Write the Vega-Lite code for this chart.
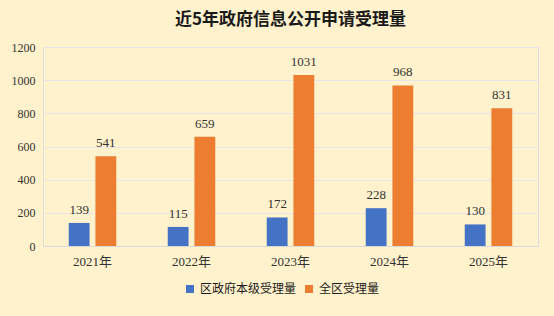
{
  "$schema": "https://vega.github.io/schema/vega-lite/v6.json",
  "autosize": "none",
  "width": 495,
  "height": 199,
  "padding": {"left": 43, "top": 47, "right": 16, "bottom": 70},
  "background": "#FFF2CC",
  "title": {
    "text": "近5年政府信息公开申请受理量",
    "font": "Noto Sans CJK SC",
    "fontSize": 17,
    "fontWeight": "bold",
    "color": "#1a1a1a",
    "anchor": "middle",
    "offset": 12
  },
  "data": {
    "values": [
      {"year": "2021年", "series": "区政府本级受理量", "value": 139},
      {"year": "2021年", "series": "全区受理量", "value": 541},
      {"year": "2022年", "series": "区政府本级受理量", "value": 115},
      {"year": "2022年", "series": "全区受理量", "value": 659},
      {"year": "2023年", "series": "区政府本级受理量", "value": 172},
      {"year": "2023年", "series": "全区受理量", "value": 1031},
      {"year": "2024年", "series": "区政府本级受理量", "value": 228},
      {"year": "2024年", "series": "全区受理量", "value": 968},
      {"year": "2025年", "series": "区政府本级受理量", "value": 130},
      {"year": "2025年", "series": "全区受理量", "value": 831}
    ]
  },
  "encoding": {
    "x": {
      "field": "year", "type": "nominal", "sort": null,
      "scale": {"paddingInner": 0.52, "paddingOuter": 0.26},
      "axis": {
        "title": null, "labelAngle": 0, "ticks": false,
        "domainColor": "#D9D9D9", "labelPadding": 9,
        "labelFont": "Liberation Serif, Noto Sans CJK SC", "labelFontSize": 13, "labelColor": "#333333"
      }
    },
    "xOffset": {
      "field": "series", "type": "nominal", "sort": ["区政府本级受理量", "全区受理量"],
      "scale": {"paddingInner": 0.22, "paddingOuter": 0}
    },
    "y": {
      "field": "value", "type": "quantitative",
      "scale": {"domain": [0, 1200]},
      "axis": {
        "title": null, "values": [0, 200, 400, 600, 800, 1000, 1200], "format": "d",
        "ticks": false, "domain": false, "gridColor": "#E6E6E6",
        "labelPadding": 8, "labelFont": "Liberation Serif", "labelFontSize": 12, "labelColor": "#333333"
      }
    }
  },
  "layer": [
    {
      "mark": {"type": "bar"},
      "encoding": {
        "color": {
          "field": "series", "type": "nominal", "sort": ["区政府本级受理量", "全区受理量"],
          "scale": {"domain": ["区政府本级受理量", "全区受理量"], "range": ["#4472C4", "#ED7D31"]},
          "legend": {
            "title": null, "orient": "none", "direction": "horizontal",
            "legendX": 141, "legendY": 236,
            "symbolType": "square", "symbolSize": 64, "symbolStrokeWidth": 0,
            "labelFont": "Noto Sans CJK SC", "labelFontSize": 12, "labelColor": "#1a1a1a",
            "columnPadding": 6, "labelOffset": 4
          }
        }
      }
    },
    {
      "mark": {"type": "text", "baseline": "bottom", "dy": -6, "font": "Liberation Serif", "fontSize": 13, "color": "#333333"},
      "encoding": {"text": {"field": "value", "type": "quantitative"}}
    }
  ]
}
